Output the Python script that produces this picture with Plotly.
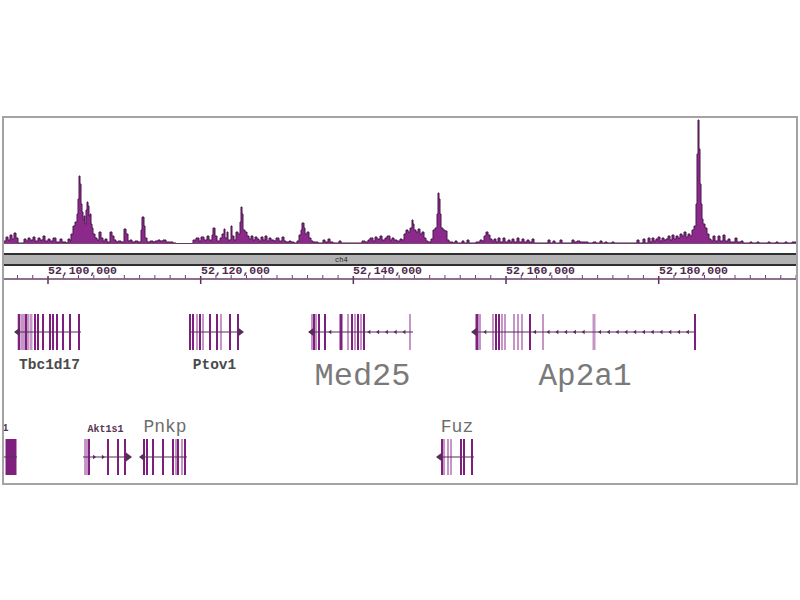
import numpy as np
import plotly.graph_objects as go

# ---------------- data ----------------
view_range = [52094105, 52198119]

signal_pos = [
    52094236, 52094498, 52094760, 52095022, 52095284, 52095546, 52095808, 52096070,
    52096856, 52097118, 52097380, 52097642, 52098035, 52098297, 52098690, 52098952,
    52099345, 52099607, 52100000, 52100262, 52100655, 52101048, 52101572, 52101834,
    52102358, 52102620, 52102882, 52103013, 52103275, 52103537, 52103799, 52103930,
    52104061, 52104192, 52104323, 52104454, 52104585, 52104716, 52104847, 52104978,
    52105109, 52105240, 52105371, 52105502, 52105633, 52105764, 52105895, 52106157,
    52106419, 52106681, 52106943, 52107205, 52107467, 52107729, 52108122, 52108384,
    52108646, 52108908, 52109170, 52109563, 52109956, 52110218, 52110480, 52110742,
    52111004, 52111397, 52111790, 52112183, 52112314, 52112576, 52112707, 52112969,
    52113362, 52113755, 52114017, 52114410, 52114672, 52115065, 52115458, 52115982,
    52116375, 52116768, 52118995, 52119388, 52119781, 52120043, 52120436, 52120829,
    52121091, 52121484, 52121615, 52121877, 52122139, 52122532, 52122794, 52123056,
    52123187, 52123449, 52123580, 52123973, 52124104, 52124366, 52124628, 52124890,
    52125152, 52125283, 52125414, 52125545, 52125807, 52126069, 52126331, 52126593,
    52126855, 52127117, 52127379, 52127641, 52127903, 52128165, 52128427, 52128689,
    52128951, 52129213, 52129606, 52129868, 52130261, 52130654, 52130916, 52131178,
    52131571, 52131833, 52132226, 52132619, 52132881, 52133143, 52133274, 52133536,
    52133667, 52133929, 52134191, 52134453, 52134715, 52135370, 52136025, 52136287,
    52136680, 52136942, 52137335, 52138121, 52138383, 52140217, 52141134, 52141527,
    52141920, 52142182, 52142575, 52142837, 52143099, 52143492, 52143754, 52144147,
    52144409, 52144802, 52145064, 52145326, 52145719, 52146112, 52146374, 52146636,
    52146898, 52147160, 52147422, 52147684, 52147815, 52147946, 52148208, 52148470,
    52148732, 52148994, 52149256, 52149518, 52149780, 52150173, 52150435, 52150697,
    52150959, 52151090, 52151221, 52151352, 52151483, 52151745, 52152007, 52152269,
    52152531, 52153055, 52153317, 52153579, 52154234, 52154496, 52154889, 52155151,
    52156068, 52156592, 52156854, 52157116, 52157378, 52157640, 52157902, 52158164,
    52158426, 52158688, 52158950, 52159212, 52159605, 52159867, 52160260, 52160522,
    52160784, 52161046, 52161439, 52161701, 52162094, 52162356, 52162749, 52163011,
    52163404, 52163666, 52165500, 52165762, 52166155, 52166417, 52167072, 52167334,
    52168644, 52168906, 52169299, 52169692, 52170085, 52170740, 52171395, 52171788,
    52172312, 52172574, 52172967, 52173229, 52173884, 52174146, 52177159, 52177421,
    52177945, 52178207, 52178600, 52178862, 52179124, 52179386, 52179648, 52179910,
    52180172, 52180434, 52180696, 52180958, 52181220, 52181482, 52181744, 52182006,
    52182268, 52182530, 52182792, 52183054, 52183316, 52183578, 52183840, 52184102,
    52184364, 52184626, 52184888, 52185019, 52185150, 52185281, 52185412, 52185543,
    52185674, 52185805, 52186067, 52186329, 52186591, 52186853, 52187115, 52187377,
    52187770, 52188032, 52188425, 52188687, 52189080, 52189342, 52189997, 52190259,
    52190783, 52191045, 52191962, 52192224, 52192879, 52193141, 52194320, 52194582,
    52195368, 52195630, 52196547, 52196809, 52197464, 52197988,
]
signal_val = [
    3, 7, 4, 9, 5, 11, 6, 1,
    5, 3, 6, 4, 7, 3, 6, 4,
    8, 3, 5, 3, 6, 2, 5, 2,
    1, 5, 3, 10, 18, 22, 30, 45,
    68, 60, 40, 32, 24, 28, 20, 34,
    42, 38, 28, 30, 20, 16, 10, 6,
    4, 12, 6, 3, 5, 2, 12, 8,
    4, 2, 3, 2, 15, 10, 3, 4,
    2, 3, 2, 14, 27, 18, 6, 2,
    3, 2, 3, 4, 3, 4, 2, 2,
    1, 0.5, 4, 6, 3, 7, 4, 8,
    4, 9, 16, 8, 3, 6, 10, 15,
    6, 12, 4, 18, 8, 4, 12, 10,
    22, 37, 30, 14, 12, 8, 5, 8,
    4, 7, 5, 3, 7, 4, 8, 3,
    6, 4, 3, 6, 3, 7, 3, 2,
    3, 2, 1, 3, 9, 14, 21, 16,
    10, 12, 6, 3, 2, 1, 4, 2,
    5, 2, 1, 3, 1, 1, 3, 2,
    4, 6, 3, 7, 5, 8, 4, 6,
    8, 4, 6, 4, 3, 5, 4, 10,
    14, 12, 16, 24, 20, 14, 12, 15,
    10, 12, 6, 3, 2, 5, 14, 16,
    30, 51, 45, 30, 16, 14, 13, 4,
    2, 1, 3, 1, 3, 1, 4, 1,
    2, 4, 3, 8, 12, 9, 5, 3,
    5, 2, 6, 2, 6, 2, 4, 2,
    5, 2, 6, 2, 5, 2, 4, 2,
    5, 1, 4, 1, 3, 1, 4, 1,
    4, 2, 3, 2, 2, 1, 2, 1,
    3, 1, 2, 1, 2, 1, 4, 1,
    5, 1, 6, 2, 6, 3, 5, 7,
    3, 6, 4, 5, 8, 4, 9, 5,
    8, 6, 10, 8, 12, 7, 10, 8,
    14, 18, 40, 90, 124, 95, 60, 40,
    25, 20, 16, 10, 5, 3, 8, 3,
    8, 3, 9, 3, 5, 2, 6, 2,
    3, 1, 2, 1, 2, 1, 2, 1,
    2, 1, 2, 1, 2, 0,
]

tick_major = [52100000, 52120000, 52140000, 52160000, 52180000]
tick_labels = ["52,100,000", "52,120,000", "52,140,000", "52,160,000", "52,180,000"]
chrom_label = "ch4"
chrom_label_pos = 52138500

gene_names = ["Tbc1d17", "Ptov1", "Med25", "Ap2a1", "Il4i1", "Akt1s1", "Pnkp", "Fuz"]
gene_start = [52096070, 52118471, 52134584, 52155937, 52089782, 52104585, 52112445, 52151352]
gene_end = [52104323, 52125152, 52147815, 52184757, 52095939, 52110480, 52118209, 52155806]
gene_strand = ["-", "+", "-", "-", "-", "+", "-", "-"]
gene_row = [1, 1, 1, 1, 2, 2, 2, 2]

exon_pos = [
    [52096201, 52096594, 52096856, 52097118, 52097380, 52097773, 52098297, 52098690,
     52099345, 52100262, 52100655, 52101179, 52101965, 52102882, 52104061],
    [52118602, 52118995, 52119519, 52119912, 52120305, 52121222, 52122139, 52122663,
     52123842, 52124890],
    [52134584, 52134846, 52135108, 52135501, 52136287, 52138383, 52139300, 52139824,
     52140217, 52140610, 52141003, 52141396, 52147422],
    [52156199, 52156592, 52158295, 52158688, 52159081, 52159474, 52159867, 52161046,
     52161570, 52162094, 52163142, 52164845, 52171526, 52184757],
    [52095153],
    [52104847, 52105109, 52105371, 52107860, 52109170, 52110087],
    [52112576, 52112969, 52113755, 52115065, 52116375, 52116768, 52117030, 52117554,
     52117947],
    [52151614, 52151876, 52152400, 52152793, 52154103, 52154496, 52155544],
]
exon_len = [
    [330, 390, 262, 196, 262, 393, 196, 196, 196, 196, 196, 196, 196, 196, 262],
    [131, 196, 262, 262, 196, 196, 262, 262, 196, 262],
    [196, 196, 196, 196, 196, 393, 196, 262, 262, 262, 262, 196, 262],
    [393, 196, 262, 262, 262, 262, 262, 262, 262, 262, 131, 262, 393, 131],
    [1440],
    [131, 262, 131, 196, 196, 196],
    [262, 131, 196, 196, 262, 262, 196, 196, 131],
    [196, 196, 196, 262, 262, 262, 131],
]
exon_shade = [
    [2, 1, 1, 2, 1, 1, 2, 2, 2, 2, 2, 2, 2, 2, 2],
    [2, 2, 1, 2, 1, 2, 2, 1, 2, 2],
    [1, 2, 1, 2, 2, 2, 1, 2, 1, 2, 1, 2, 1],
    [2, 1, 1, 2, 2, 1, 1, 1, 1, 1, 2, 1, 1, 2],
    [2],
    [1, 1, 2, 2, 2, 2],
    [2, 2, 2, 2, 2, 1, 2, 1, 2],
    [2, 1, 1, 1, 2, 2, 2],
]

# ---------------- styles ----------------
MONO = "Liberation Mono, Courier New, monospace"
SIG_FILL = "#8c2a8c"
SIG_LINE = "#4a174a"
GENE_LINE = "#5a2a5a"
SHADE_COL = {1: "#c596c5", 2: "#7e1f7e"}
EXON_HALF = 0.144
# (font size, bold, colour, vertical offset from row centre)
label_style = {
    "Tbc1d17": (14.5, True, "#4a4a4a", 0.264),
    "Ptov1": (14.5, True, "#4a4a4a", 0.268),
    "Med25": (32, False, "#7a7a7a", 0.36),
    "Ap2a1": (31, False, "#7a7a7a", 0.36),
    "Il4i1": (10, True, "#553355", -0.232),
    "Akt1s1": (10, True, "#553355", -0.224),
    "Pnkp": (18, False, "#6e6e6e", -0.24),
    "Fuz": (18, False, "#6e6e6e", -0.24),
}

fig = go.Figure()

# signal track
fig.add_trace(go.Scatter(
    x=signal_pos, y=signal_val, mode="lines",
    line=dict(shape="hv", color=SIG_LINE, width=1),
    fill="tozeroy", fillcolor=SIG_FILL,
    xaxis="x", yaxis="y", hoverinfo="skip",
))

# genes
bar_x, bar_w, bar_c, bar_base, bar_h = [], [], [], [], []
for i, name in enumerate(gene_names):
    row = gene_row[i]
    s, e = gene_start[i], gene_end[i]
    fig.add_trace(go.Scatter(
        x=[s, e], y=[row, row], mode="lines",
        line=dict(color=GENE_LINE, width=1.2),
        xaxis="x", yaxis="y2", hoverinfo="skip",
    ))
    # strand chevrons in introns
    order = np.argsort(exon_pos[i])
    ex = [(exon_pos[i][k] - exon_len[i][k] / 2, exon_pos[i][k] + exon_len[i][k] / 2) for k in order]
    chev = []
    for (a0, a1), (b0, b1) in zip(ex[:-1], ex[1:]):
        if b0 - a1 > 1400:
            chev.extend(np.arange(a1 + 600, b0 - 300, 1150).tolist())
    sym = "triangle-left" if gene_strand[i] == "-" else "triangle-right"
    if chev:
        fig.add_trace(go.Scatter(
            x=chev, y=[row] * len(chev), mode="markers",
            marker=dict(symbol=sym, size=4, color=GENE_LINE),
            xaxis="x", yaxis="y2", hoverinfo="skip",
        ))
    end_x = s if gene_strand[i] == "-" else e
    fig.add_trace(go.Scatter(
        x=[end_x], y=[row], mode="markers",
        marker=dict(symbol=sym, size=8, color=GENE_LINE),
        xaxis="x", yaxis="y2", hoverinfo="skip",
    ))
    for k in range(len(exon_pos[i])):
        bar_x.append(exon_pos[i][k])
        bar_w.append(exon_len[i][k])
        bar_c.append(SHADE_COL[exon_shade[i][k]])
        bar_base.append(row - EXON_HALF)
        bar_h.append(2 * EXON_HALF)
    size, bold, col, dy = label_style[name]
    txt = f"<b>{name}</b>" if bold else name
    fig.add_trace(go.Scatter(
        x=[(s + e) / 2], y=[row + dy], mode="text", text=[txt],
        textfont=dict(family=MONO, size=size, color=col),
        textposition="middle center", cliponaxis=True,
        xaxis="x", yaxis="y2", hoverinfo="skip",
    ))

fig.add_trace(go.Bar(
    x=bar_x, y=bar_h, base=bar_base, width=bar_w,
    marker=dict(color=bar_c, line=dict(width=0)),
    xaxis="x", yaxis="y2", hoverinfo="skip",
))

# ruler
minor = [t for t in range(52094000, 52198001, 2000) if t not in tick_major]
mx, my = [], []
for t in minor:
    mx += [t, t, None]
    my += [275, 278.5, None]
fig.add_trace(go.Scatter(x=mx, y=my, mode="lines", line=dict(color="#6a3f6a", width=1),
                         xaxis="x", yaxis="y3", hoverinfo="skip"))
Mx, My = [], []
for t in tick_major:
    Mx += [t, t, None]
    My += [276, 284, None]
fig.add_trace(go.Scatter(x=Mx, y=My, mode="lines", line=dict(color="#5a2f5a", width=1.5),
                         xaxis="x", yaxis="y3", hoverinfo="skip"))

shapes = [
    dict(type="line", xref="paper", yref="y", x0=0, x1=1, y0=0, y1=0,
         line=dict(color="#6a6a6a", width=1)),
    dict(type="rect", xref="paper", yref="y3", x0=0, x1=1, y0=254.5, y1=264.5,
         fillcolor="#b2b2b2", line=dict(width=0)),
    dict(type="line", xref="paper", yref="y3", x0=0, x1=1, y0=254, y1=254,
         line=dict(color="#2f2f2f", width=2)),
    dict(type="line", xref="paper", yref="y3", x0=0, x1=1, y0=265, y1=265,
         line=dict(color="#2f2f2f", width=2)),
    dict(type="line", xref="paper", yref="y3", x0=0, x1=1, y0=279, y1=279,
         line=dict(color="#6a3f6a", width=1.5)),
    dict(type="rect", xref="paper", yref="paper", x0=0, x1=1, y0=0, y1=1,
         line=dict(color="#a3a3a3", width=2)),
]

annotations = [
    dict(x=t, y=270.5, xref="x", yref="y3", text=f"<b>{lab}</b>", showarrow=False,
         xanchor="left", yanchor="middle", xshift=-2,
         font=dict(family=MONO, size=11.5, color="#4e2a4e"))
    for t, lab in zip(tick_major, tick_labels)
]
annotations.append(dict(x=chrom_label_pos, y=259.5, xref="x", yref="y3", text=chrom_label,
                        showarrow=False, font=dict(family=MONO, size=7, color="#222222")))

fig.update_layout(
    width=800, height=600,
    margin=dict(l=3, r=3, t=117, b=116),
    paper_bgcolor="white", plot_bgcolor="white",
    showlegend=False, barmode="overlay",
    xaxis=dict(range=view_range, visible=False, fixedrange=True),
    yaxis=dict(domain=[0.65395, 1.0], range=[0, 127], visible=False, fixedrange=True),
    yaxis2=dict(domain=[0.0, 0.5286], range=[2.216, 0.664], visible=False, anchor="x",
                fixedrange=True),
    yaxis3=dict(domain=[0.5286, 0.6485], range=[290, 246], visible=False, anchor="x",
                fixedrange=True),
    shapes=shapes, annotations=annotations,
)

fig.write_html(
    "out.html",
    config={"displayModeBar": False},
    post_script="document.body.style.margin='0px';document.body.style.overflow='hidden';",
)
